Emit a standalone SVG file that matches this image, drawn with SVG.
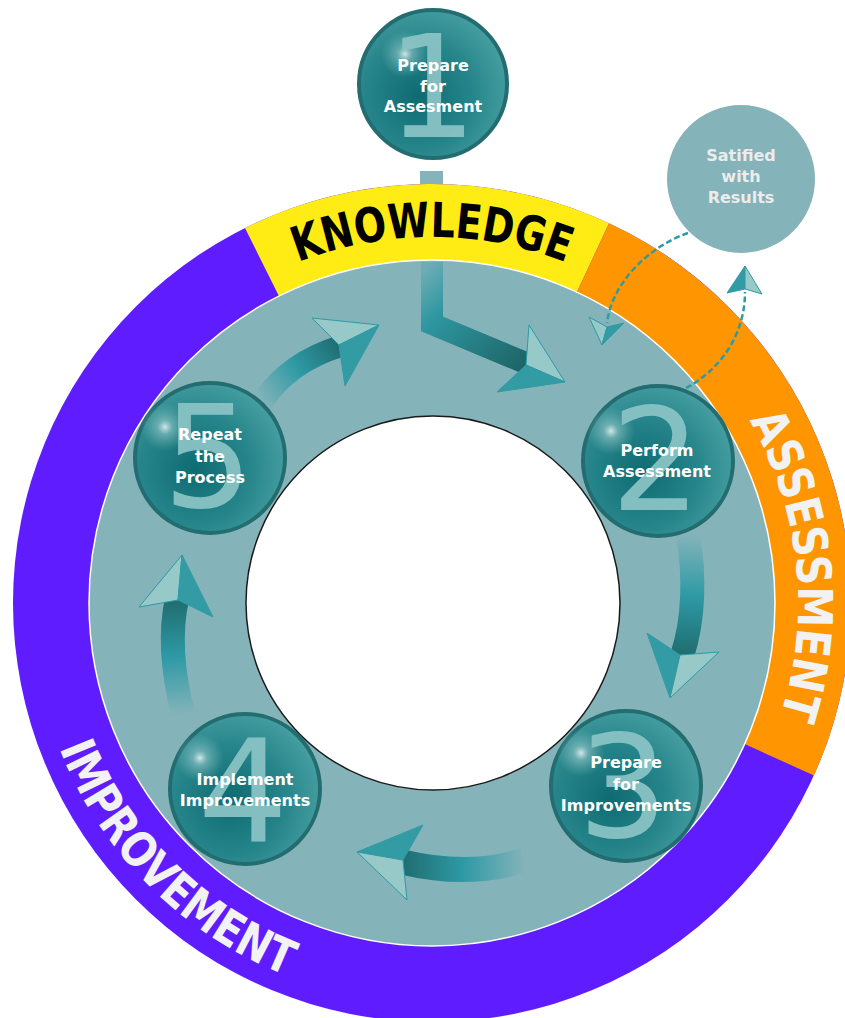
<svg xmlns="http://www.w3.org/2000/svg" width="845" height="1018" viewBox="0 0 845 1018">
<defs>
<style>
.ntext{font-family:"DejaVu Sans","Verdana",sans-serif;font-weight:bold;font-size:16px;fill:#ffffff;text-anchor:middle}
.stext{font-family:"DejaVu Sans","Verdana",sans-serif;font-weight:bold;font-size:16px;fill:#ececec;text-anchor:middle}
.num{font-family:"DejaVu Sans","Verdana",sans-serif;font-size:142px;fill:#8cc4c5;fill-opacity:0.92;text-anchor:middle}
.ball{fill:url(#ballGrad);stroke:#236d70;stroke-width:4}
.glow{fill:url(#glowGrad)}
.band{font-family:"DejaVu Sans","Verdana",sans-serif;font-weight:bold;font-size:48px}
.light{fill:#97c9c9;stroke:#2e9aa5;stroke-width:1}
.dark{fill:#329ba4;stroke:#329ba4;stroke-width:1}
.dash{fill:none;stroke:#2e9aa5;stroke-width:2.5;stroke-dasharray:6 3}
</style>
<radialGradient id="ballGrad" cx="0.4" cy="0.58" r="0.66">
<stop offset="0" stop-color="#0d6b71"/>
<stop offset="0.55" stop-color="#26858a"/>
<stop offset="1" stop-color="#4aa2a4"/>
</radialGradient>
<radialGradient id="glowGrad" cx="0.5" cy="0.5" r="0.5">
<stop offset="0" stop-color="#ffffff" stop-opacity="0.8"/>
<stop offset="0.3" stop-color="#cfe8e8" stop-opacity="0.4"/>
<stop offset="1" stop-color="#9fd0d0" stop-opacity="0"/>
</radialGradient>
<linearGradient id="g51" gradientUnits="userSpaceOnUse" x1="262" y1="402" x2="340" y2="346">
<stop offset="0" stop-color="#2e9aa5" stop-opacity="0"/>
<stop offset="0.5" stop-color="#2e9aa5"/>
<stop offset="1" stop-color="#1f6d70"/>
</linearGradient>
<linearGradient id="g12" gradientUnits="userSpaceOnUse" x1="432" y1="262" x2="528" y2="363">
<stop offset="0" stop-color="#6eadb4"/>
<stop offset="0.3" stop-color="#2e97a1"/>
<stop offset="1" stop-color="#1d6466"/>
</linearGradient>
<linearGradient id="g23" gradientUnits="userSpaceOnUse" x1="688" y1="535" x2="682" y2="655">
<stop offset="0" stop-color="#2e9aa5" stop-opacity="0"/>
<stop offset="0.5" stop-color="#2e9aa5"/>
<stop offset="1" stop-color="#1f6d70"/>
</linearGradient>
<linearGradient id="g34" gradientUnits="userSpaceOnUse" x1="524" y1="862" x2="403" y2="862">
<stop offset="0" stop-color="#2e9aa5" stop-opacity="0"/>
<stop offset="0.5" stop-color="#2e9aa5"/>
<stop offset="1" stop-color="#1f6d70"/>
</linearGradient>
<linearGradient id="g45" gradientUnits="userSpaceOnUse" x1="183" y1="714" x2="177" y2="600">
<stop offset="0" stop-color="#2e9aa5" stop-opacity="0"/>
<stop offset="0.5" stop-color="#2e9aa5"/>
<stop offset="1" stop-color="#1f6d70"/>
</linearGradient>
<path id="pK" d="M115,420 A366,366 0 0 1 749,420"/>
<path id="pA" d="M580.9,268.6 A366,366 0 0 1 647.1,899.1"/>
<path id="pI" d="M45.6,499.5 A400,400 0 0 0 535.5,989.4"/>
</defs>

<rect x="420" y="171" width="23" height="22" fill="#84b4ba"/>

<g id="ring">
<circle cx="432" cy="603" r="419" fill="#5f1cff"/>
<path d="M432,603 L245,228 A419,419 0 0 1 609.1,223.3 Z" fill="#ffec14"/>
<path d="M432,603 L609.1,223.3 A419,419 0 0 1 813.9,775.4 Z" fill="#ff9500"/>
<circle cx="432" cy="603" r="343" fill="#84b3b9" stroke="#ffffff" stroke-width="1.5"/>
<circle cx="433" cy="603" r="187" fill="#ffffff" stroke="#1a1a1a" stroke-width="1.5"/>
<text class="band" fill="#000000"><textPath href="#pK" startOffset="50%" text-anchor="middle" textLength="274" lengthAdjust="spacingAndGlyphs">KNOWLEDGE</textPath></text>
<text class="band" fill="#f2f2f2"><textPath href="#pA" startOffset="50%" text-anchor="middle" textLength="306" lengthAdjust="spacingAndGlyphs">ASSESSMENT</textPath></text>
<text class="band" fill="#f2f2f2"><textPath href="#pI" startOffset="50%" text-anchor="middle" textLength="331" lengthAdjust="spacingAndGlyphs">IMPROVEMENT</textPath></text>
</g>

<g id="connectors">
<path d="M432,262 L432,324 L528,364" fill="none" stroke="url(#g12)" stroke-width="22" stroke-linejoin="miter"/>
<polygon class="light" points="526,365 529,325 565,382"/>
<polygon class="dark" points="526,365 497,392 565,382"/>

<path d="M688,535 C695,575 694,620 682,656" fill="none" stroke="url(#g23)" stroke-width="24"/>
<polygon class="dark" points="680,655 647,633 670,698"/>
<polygon class="light" points="680,655 719,652 670,698"/>

<path d="M524,860 Q470,878 402,862" fill="none" stroke="url(#g34)" stroke-width="25"/>
<polygon class="dark" points="403,860 423,825 357,852"/>
<polygon class="light" points="403,860 407,900 357,852"/>

<path d="M183,714 C172,670 170,630 177,599" fill="none" stroke="url(#g45)" stroke-width="24"/>
<polygon class="light" points="178,600 139,607 182,555"/>
<polygon class="dark" points="178,600 213,617 182,555"/>

<path d="M262,402 C280,375 305,357 341,346" fill="none" stroke="url(#g51)" stroke-width="22"/>
<polygon class="light" points="339,345 312,318 379,325"/>
<polygon class="dark" points="339,345 345,386 379,325"/>
</g>

<g id="node1">
<circle class="ball" cx="433" cy="84" r="74"/>
<circle class="glow" cx="405" cy="54" r="24"/>
<text class="num" x="432" y="137">1</text>
<text class="ntext" x="433" y="70.5">Prepare</text>
<text class="ntext" x="433" y="91.5">for</text>
<text class="ntext" x="433" y="112">Assesment</text>
</g>

<g id="node2">
<circle class="ball" cx="658" cy="461" r="75"/>
<circle class="glow" cx="611" cy="431" r="24"/>
<text class="num" x="656" y="510">2</text>
<text class="ntext" x="657" y="456">Perform</text>
<text class="ntext" x="657" y="477">Assessment</text>
</g>

<g id="node3">
<circle class="ball" cx="626" cy="786" r="75"/>
<circle class="glow" cx="581" cy="753" r="24"/>
<text class="num" x="623" y="837">3</text>
<text class="ntext" x="626" y="768">Prepare</text>
<text class="ntext" x="626" y="789.5">for</text>
<text class="ntext" x="626" y="811">Improvements</text>
</g>

<g id="node4">
<circle class="ball" cx="245" cy="789" r="75"/>
<circle class="glow" cx="200" cy="758" r="24"/>
<text class="num" x="243" y="842">4</text>
<text class="ntext" x="245" y="785">Implement</text>
<text class="ntext" x="245" y="806">Improvements</text>
</g>

<g id="node5">
<circle class="ball" cx="210" cy="458" r="75"/>
<circle class="glow" cx="165" cy="427" r="24"/>
<text class="num" x="208" y="507">5</text>
<text class="ntext" x="210" y="440">Repeat</text>
<text class="ntext" x="210" y="461.5">the</text>
<text class="ntext" x="210" y="483">Process</text>
</g>

<g id="satisfied">
<circle cx="741" cy="179" r="74" fill="#84b3b9"/>
<text class="stext" x="741" y="160.5">Satified</text>
<text class="stext" x="741" y="182">with</text>
<text class="stext" x="741" y="203">Results</text>
</g>

<g id="feedback-connectors">
<path class="dash" d="M688,233 C650,246 612,282 607,323"/>
<polygon class="light" points="607,327 589,317 602,345"/>
<polygon class="dark" points="607,327 624,323 602,345"/>
<path class="dash" d="M686,388 C720,370 745,335 745,292"/>
<polygon class="dark" points="745,289 727,293 745,266"/>
<polygon class="light" points="745,289 762,294 745,266"/>
</g>
</svg>
